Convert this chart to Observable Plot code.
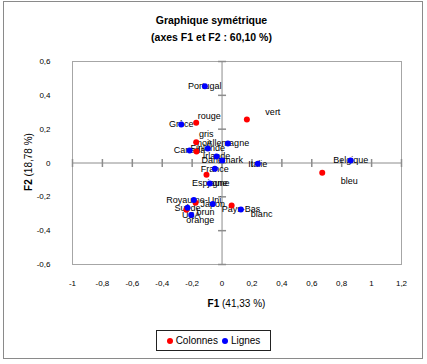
<!DOCTYPE html>
<html>
<head>
<meta charset="utf-8">
<script src="https://cdn.jsdelivr.net/npm/d3@7"></script>
<script src="https://cdn.jsdelivr.net/npm/@observablehq/plot@0.6"></script>
<style>
  html, body { margin: 0; padding: 0; background: #fff; }
  #wrap { position: relative; width: 427px; height: 364px; font-family: "Liberation Sans", Arial, sans-serif; color: #000; }
  #border { position: absolute; left: 3px; top: 1px; width: 420px; height: 358px; box-sizing: border-box; border: 1px solid #8a8a8a; }
  #title { position: absolute; left: 0; top: 12px; width: 423px; text-align: center; font-weight: bold; font-size: 10.5px; line-height: 17px; }
  #chart { position: absolute; left: 0; top: 0; }
  #xlabel { position: absolute; left: 136px; width: 201px; top: 297px; text-align: center; font-size: 10px; line-height: 14px; }
  #ylabel { position: absolute; left: 29px; top: 162px; transform: translate(-50%, -50%) rotate(-90deg); white-space: nowrap; font-size: 10px; line-height: 14px; }
  #legend { position: absolute; left: 156px; top: 330px; width: 115px; height: 21px; box-sizing: border-box; border: 1px solid #222; font-size: 10px; display: flex; align-items: center; justify-content: center; gap: 4px; }
  .sw { display: inline-block; width: 6px; height: 6px; border-radius: 50%; margin-right: 3px; vertical-align: middle; }
  .item { display: inline-flex; align-items: center; }
</style>
</head>
<body>
<div id="wrap">
  <div id="border"></div>
  <div id="title"></div>
  <div id="chart"></div>
  <div id="xlabel"></div>
  <div id="ylabel"></div>
  <div id="legend"></div>
</div>
<script>
// ---- Data ----
const titleLines = ["Graphique symétrique", "(axes F1 et F2 : 60,10 %)"];
const xAxisName = ["F1", "(41,33 %)"];
const yAxisName = ["F2", "(18,78 %)"];
const seriesNames = ["Colonnes", "Lignes"];
const seriesColors = ["#ff0000", "#0000ff"];

// Colonnes (colours)
const colLabels = ["rouge", "vert", "gris", "noir", "jaune", "bleu", "brun", "orange", "blanc"];
const colF1 = [-0.173, 0.166, -0.173, -0.171, -0.104, 0.670, -0.177, -0.239, 0.064];
const colF2 = [0.238, 0.257, 0.123, 0.068, -0.070, -0.058, -0.235, -0.277, -0.251];

// Lignes (countries)
const rowLabels = ["Portugal", "Grèce", "Allemagne", "Finlande", "Canada", "Irlande", "Danemark", "Italie",
  "France", "Espagne", "Belgique", "Royaume-Uni", "Japon", "Suède", "USA", "Pays-Bas"];
const rowF1 = [-0.115, -0.273, 0.039, -0.095, -0.217, -0.037, 0.001, 0.239,
  -0.048, -0.082, 0.860, -0.189, -0.062, -0.231, -0.206, 0.126];
const rowF2 = [0.454, 0.228, 0.115, 0.086, 0.074, 0.038, 0.015, -0.005,
  -0.034, -0.121, 0.015, -0.218, -0.243, -0.265, -0.307, -0.275];

const xTicks = [-1, -0.8, -0.6, -0.4, -0.2, 0, 0.2, 0.4, 0.6, 0.8, 1, 1.2];
const yTicks = [-0.6, -0.4, -0.2, 0, 0.2, 0.4, 0.6];

// label nudges (pixels) for the column labels, as placed in the original
const colLabelNudge = {
  rouge: [13, -7], vert: [26, -7], gris: [10, -8], noir: [8, -8], jaune: [12, 8],
  bleu: [27, 8], brun: [10, 9], orange: [14, 10], blanc: [30, 9]
};

// ---- Build ----
const cols = colLabels.map((l, i) => ({label: l, f1: colF1[i], f2: colF2[i]}));
const rows = rowLabels.map((l, i) => ({label: l, f1: rowF1[i], f2: rowF2[i]}));
const fmt = d => String(d).replace(".", ",");

const vTick = {draw(ctx, size) { const r = Math.sqrt(size / Math.PI); ctx.moveTo(0, -r); ctx.lineTo(0, r); }};
const hTick = {draw(ctx, size) { const r = Math.sqrt(size / Math.PI); ctx.moveTo(-r, 0); ctx.lineTo(r, 0); }};

const axisColor = "#8c8c8c";

const chart = Plot.plot({
  width: 427,
  height: 364,
  marginLeft: 72,
  marginRight: 26,
  marginTop: 61,
  marginBottom: 100,
  style: {fontFamily: "Liberation Sans, Arial, sans-serif", fontSize: "8px", color: "#000", background: "transparent", overflow: "visible"},
  x: {domain: [-1, 1.2], ticks: xTicks, tickFormat: fmt, tickSize: 0, tickPadding: 16, label: null},
  y: {domain: [-0.6, 0.6], ticks: yTicks, tickFormat: fmt, tickSize: 0, tickPadding: 22, label: null},
  marks: [
    Plot.frame({stroke: "#a6a6a6"}),
    Plot.ruleX([0], {stroke: axisColor}),
    Plot.ruleY([0], {stroke: axisColor}),
    Plot.dot(xTicks, {x: d => d, y: () => 0, symbol: vTick, r: 4, fill: "none", stroke: axisColor}),
    Plot.dot(yTicks, {x: () => 0, y: d => d, symbol: hTick, r: 4, fill: "none", stroke: axisColor}),
    ...cols.map(d => Plot.text([d], {x: "f1", y: "f2", text: "label", fontSize: 9, fill: "#000",
      dx: colLabelNudge[d.label][0], dy: colLabelNudge[d.label][1]})),
    Plot.text(rows, {x: "f1", y: "f2", text: "label", fontSize: 9, fill: "#000"}),
    Plot.dot(cols, {x: "f1", y: "f2", r: 3, fill: seriesColors[0]}),
    Plot.dot(rows, {x: "f1", y: "f2", r: 3, fill: seriesColors[1]})
  ]
});
document.getElementById("chart").appendChild(chart);

document.getElementById("title").innerHTML = titleLines.join("<br>");
document.getElementById("xlabel").innerHTML = `<b>${xAxisName[0]}</b> ${xAxisName[1]}`;
document.getElementById("ylabel").innerHTML = `<b>${yAxisName[0]}</b> ${yAxisName[1]}`;
document.getElementById("legend").innerHTML = seriesNames.map((n, i) =>
  `<span class="item"><span class="sw" style="background:${seriesColors[i]}"></span>${n}</span>`).join("");
</script>
</body>
</html>
